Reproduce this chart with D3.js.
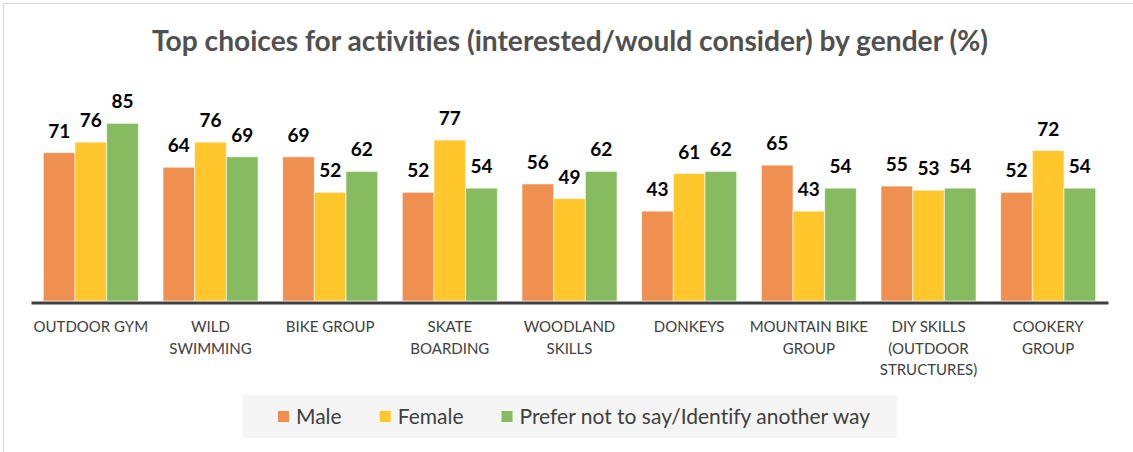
<!DOCTYPE html>
<html>
<head>
<meta charset="utf-8">
<script src="https://cdn.jsdelivr.net/npm/d3@7"></script>
<style>
  html, body { margin: 0; padding: 0; background: #fff; }
  svg { display: block; }
  text { font-variant-ligatures: none; font-feature-settings: "liga" 0; }
</style>
</head>
<body>
<svg id="chart" width="1133" height="452"></svg>
<script>
// Activity categories ("\n" marks a line break in the axis label)
const categories = [
  "OUTDOOR GYM",
  "WILD\nSWIMMING",
  "BIKE GROUP",
  "SKATE\nBOARDING",
  "WOODLAND\nSKILLS",
  "DONKEYS",
  "MOUNTAIN BIKE\nGROUP",
  "DIY SKILLS\n(OUTDOOR\nSTRUCTURES)",
  "COOKERY\nGROUP"
];

const seriesNames = ["Male", "Female", "Prefer not to say/Identify another way"];

// Percentage interested / would consider, per series
const male   = [71, 64, 69, 52, 56, 43, 65, 55, 52];
const female = [76, 76, 52, 77, 49, 61, 43, 53, 72];
const other  = [85, 69, 62, 54, 62, 62, 54, 54, 54];

const seriesValues = [male, female, other];
const colors = ["#EF8F50", "#FFC72C", "#86BB60"];

const title = "Top choices for activities (interested/would consider) by gender (%)";

const svg = d3.select("#chart");
const W = 1133, H = 452;
const fontFamily = "Lato, 'Open Sans', 'DejaVu Sans', sans-serif";

// outer frame (right edge runs off the canvas)
svg.append("rect")
  .attr("x", 3.5).attr("y", 3.5)
  .attr("width", W + 2).attr("height", H - 2.5)
  .attr("fill", "#fff")
  .attr("stroke", "#D9D9D9").attr("stroke-width", 1);

// title, sized to span its measured width
const titleText = svg.append("text")
  .attr("x", 570).attr("y", 51)
  .attr("text-anchor", "middle")
  .attr("font-family", fontFamily)
  .attr("font-weight", 700)
  .attr("font-size", 28)
  .attr("fill", "#505050")
  .text(title);
{
  const w = titleText.node().getComputedTextLength();
  titleText.attr("font-size", 28 * 836 / w);
}

const plotTop = 92, plotBottom = 301;

const x = d3.scaleBand()
  .domain(d3.range(categories.length))
  .range([31, 1108])
  .paddingInner(0.206)
  .paddingOuter(0.103);

const xs = d3.scaleBand()
  .domain(d3.range(seriesNames.length))
  .range([0, x.bandwidth()]);

const y = d3.scaleLinear()
  .domain([0, 100])
  .range([plotBottom, plotTop]);

// flatten into bar records
const bars = [];
categories.forEach((c, i) => {
  seriesValues.forEach((vals, s) => {
    bars.push({ cat: i, s, v: vals[i] });
  });
});

const g = svg.append("g");

g.selectAll("rect.bar")
  .data(bars)
  .join("rect")
  .attr("class", "bar")
  .attr("x", d => x(d.cat) + xs(d.s))
  .attr("y", d => y(d.v))
  .attr("width", xs.bandwidth())
  .attr("height", d => y(0) - y(d.v))
  .attr("fill", d => colors[d.s])
  .attr("stroke", "rgba(255,255,255,0.6)")
  .attr("stroke-width", 1);

// value labels
g.selectAll("text.val")
  .data(bars)
  .join("text")
  .attr("class", "val")
  .attr("x", d => x(d.cat) + xs(d.s) + xs.bandwidth() / 2)
  .attr("y", d => y(d.v) - 15)
  .attr("text-anchor", "middle")
  .attr("font-family", fontFamily)
  .attr("font-weight", 700)
  .attr("font-size", 19)
  .attr("fill", "#000")
  .text(d => d.v);

// baseline axis with category labels
const axis = d3.axisBottom(x).tickSize(0).tickFormat("");
const axisG = svg.append("g")
  .attr("transform", `translate(0,${plotBottom + 1.5})`)
  .call(axis);
axisG.select(".domain")
  .attr("stroke", "#404040")
  .attr("stroke-width", 3);

axisG.selectAll(".tick").each(function(i) {
  const lines = categories[i].split("\n");
  const t = d3.select(this).append("text")
    .attr("text-anchor", "middle")
    .attr("font-family", fontFamily)
    .attr("font-size", 15)
    .attr("fill", "#404040")
    .attr("y", 29.5);
  lines.forEach((ln, k) => {
    t.append("tspan")
      .attr("x", 0)
      .attr("dy", k === 0 ? 0 : 21.5)
      .text(ln);
  });
});

// legend
const legend = svg.append("g");
legend.append("rect")
  .attr("x", 243).attr("y", 395)
  .attr("width", 654).attr("height", 43)
  .attr("fill", "#F5F5F5");

const items = legend.append("g").attr("transform", "translate(278,417)");
let cursor = 0;
seriesNames.forEach((name, s) => {
  const it = items.append("g").attr("transform", `translate(${cursor},0)`);
  it.append("rect")
    .attr("x", 0).attr("y", -6)
    .attr("width", 11).attr("height", 11)
    .attr("fill", colors[s]);
  const tx = it.append("text")
    .attr("x", 18).attr("y", 7)
    .attr("font-family", fontFamily)
    .attr("font-size", 21)
    .attr("fill", "#404040")
    .text(name);
  const w = tx.node().getComputedTextLength();
  cursor += 18 + w + 38;
});
</script>
</body>
</html>
